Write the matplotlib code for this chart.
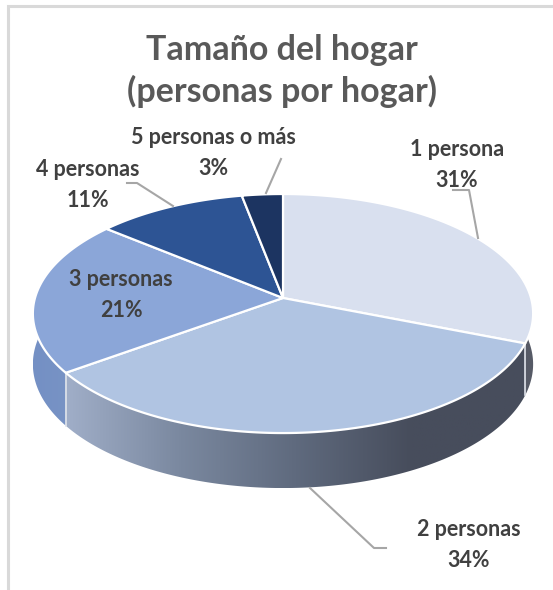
import numpy as np
import matplotlib
matplotlib.use('Agg')
import matplotlib.pyplot as plt
from matplotlib.colors import LinearSegmentedColormap
from matplotlib.patches import Polygon

plt.rcParams['font.family'] = ['Lato', 'DejaVu Sans']

categorias = ['1 persona', '2 personas', '3 personas', '4 personas', '5 personas o más']
valores = [31, 34, 21, 11, 3]
titulo = 'Tamaño del hogar\n(personas por hogar)'

colores = ['#d9e0ef', '#b0c4e2', '#8ba6d8', '#2d5494', '#1c3461']
# Side of each slice, left to right
lados = [['#5c606b', '#565a66'],
         ['#a0aec8', '#7a889f', '#5f6a7e', '#474d5c', '#474d5c'],
         ['#7490c4', '#7c96c6'],
         ['#2d5494', '#2d5494'],
         ['#1c3461', '#1c3461']]

# label centres and leader lines, in pixels
pos_etiquetas = [(457, 165), (469, 545), (121, 295), (88, 185), (213, 153)]
guias = [[(478, 238), (469, 190), (453, 190)],
         [(310, 488), (374, 548), (386, 548)],
         None,
         [(127, 183), (137, 183), (173, 206)],
         [(281, 159), (266, 193)]]

# pie geometry: tilted circle seen in perspective
cx, cy = 283, 298
A, B, k = 248, 117.5, 0.13


def project(t):
  x = np.sin(t)
  y = np.cos(t)
  d = 1 + k * y
  return cx + A * x / d, cy - B * y / d


def depth(t):
  return 50 - 5 * np.cos(t)


fig = plt.figure(figsize=(5.53, 5.90), dpi=100)
ax = fig.add_axes([0, 0, 1, 1])
ax.set_xlim(0, 553)
ax.set_ylim(590, 0)
ax.axis('off')

# chart frame
ax.plot([8, 8, 553], [590, 6, 6], color='#d9d9d9', lw=2.2, solid_joinstyle='miter', zorder=1)

cortes = np.radians(np.concatenate([[0], np.cumsum(valores)]) * 3.6)

# sides
for i in range(len(valores)):
  t = np.linspace(cortes[i], cortes[i + 1], 200)
  xs, ys = project(t)
  pts = np.column_stack([np.r_[xs, xs[::-1]], np.r_[ys, (ys + depth(t))[::-1]]])
  x0, x1 = pts[:, 0].min(), pts[:, 0].max()
  y0, y1 = pts[:, 1].min(), pts[:, 1].max()
  cmap = LinearSegmentedColormap.from_list(f'lado{i}', lados[i])
  im = ax.imshow(np.linspace(0, 1, 256)[None, :], cmap=cmap, aspect='auto',
                 extent=[x0, x1, y1, y0], zorder=2)
  im.set_clip_path(Polygon(pts, closed=True, transform=ax.transData))
ax.set_xlim(0, 553)
ax.set_ylim(590, 0)

# light edges between the sides
for c in [cortes[1], cortes[2]]:
  xb, yb = project(c)
  ax.plot([xb, xb], [yb, yb + depth(c)], color='#dfe3ea', lw=1.2, zorder=3)

# top face
for i in range(len(valores)):
  t = np.linspace(cortes[i], cortes[i + 1], 200)
  xs, ys = project(t)
  pts = np.column_stack([np.r_[cx, xs], np.r_[cy, ys]])
  ax.add_patch(Polygon(pts, closed=True, facecolor=colores[i], edgecolor='white',
                       lw=1.6, joinstyle='round', zorder=4))

# leader lines
for g in guias:
  if g is None:
    continue
  ax.plot([p[0] for p in g], [p[1] for p in g], color='#a6a6a6', lw=1.5, zorder=5)

ax.text(282, 71, titulo, ha='center', va='center', fontsize=24.5, fontweight='bold',
        color='#595959', linespacing=1.36, zorder=6)

for cat, val, p in zip(categorias, valores, pos_etiquetas):
  ax.text(p[0], p[1], f'{cat}\n{val}%', ha='center', va='center', fontsize=15.5,
          fontweight='bold', color='#404040', linespacing=1.55, zorder=6)

fig.savefig('out.png', dpi=100)
